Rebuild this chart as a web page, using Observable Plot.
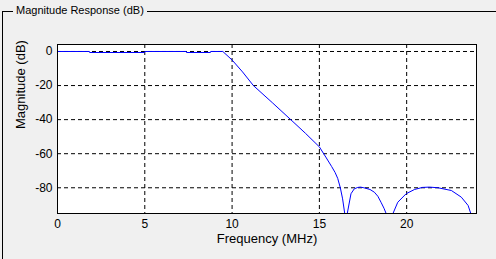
<!DOCTYPE html>
<html><head><meta charset="utf-8">
<script src="https://cdn.jsdelivr.net/npm/d3@7"></script>
<script src="https://cdn.jsdelivr.net/npm/@observablehq/plot@0.6"></script>
<style>
html,body{margin:0;padding:0;background:#f0f0f0;width:496px;height:259px;overflow:hidden;}
#wrap{position:relative;width:496px;height:259px;}
#box{position:absolute;left:2px;top:11px;width:600px;height:400px;border-left:1px solid #000;border-top:1px solid #000;}
#title{position:absolute;left:13px;top:3px;padding:0 3px;background:#f0f0f0;font:11px "Liberation Sans",Arial,sans-serif;color:#000;line-height:14px;}
#chart{position:absolute;left:0;top:0;}
</style></head><body>
<div id="wrap"><div id="box"></div><div id="title">Magnitude Response (dB)</div><div id="chart"></div></div>
<script>
const freqMHz = [0, 1.83, 1.84, 4.99, 5.0, 7.38, 7.39, 8.76, 8.77, 9.47, 10.0, 10.6, 11.22, 12.3, 13.36, 14.2, 15.0, 15.4, 15.7, 15.9, 16.05, 16.2, 16.33, 16.45, 16.55, 16.6, 16.81, 17.0, 17.2, 17.35, 17.55, 17.9, 18.15, 18.35, 18.53, 18.7, 18.82, 19.0, 19.22, 19.49, 19.97, 20.45, 20.9, 21.3, 21.8, 22.56, 23.13, 23.52, 23.67, 24.0];
const magDB = [0, 0, -0.6, -0.6, 0, 0, -0.6, -0.6, 0, 0, -5, -12, -20, -30, -40, -48, -56, -62.5, -67.5, -71, -74.5, -80, -86.5, -95, -130, -95, -83.5, -80.6, -79.8, -79.6, -80, -81, -82.6, -85, -88.5, -92, -95, -130, -95, -88.5, -83.5, -81, -79.8, -79.6, -80, -81.6, -85.5, -90.4, -95, -120];
const xTicks = [0, 5, 10, 15, 20];
const yTicks = [0, -20, -40, -60, -80];
const xLabel = "Frequency (MHz)";
const yLabel = "Magnitude (dB)";
const data = freqMHz.map((f, i) => ({f, m: magDB[i]}));
const chart = Plot.plot({
  width: 496, height: 259, marginLeft: 57, marginRight: 20, marginTop: 44, marginBottom: 46,
  style: {background: "transparent", fontFamily: "Liberation Sans, Arial, sans-serif", fontSize: "12px", color: "#000", overflow: "visible"},
  x: {domain: [0, 24]},
  y: {domain: [-95.1, 4.1]},
  marks: [
    Plot.frame({fill: "white"}),
    Plot.ruleX(xTicks.filter(d => d > 0), {stroke: "#000", strokeDasharray: "4,3", strokeWidth: 1}),
    Plot.ruleY(yTicks, {stroke: "#000", strokeDasharray: "4,3", strokeWidth: 1}),
    Plot.axisX({ticks: xTicks, tickSize: 0, tickPadding: 6, label: null, tickFormat: d => `${d}`}),
    Plot.axisY({ticks: yTicks, tickSize: 0, tickPadding: 5, label: null, tickFormat: d => `${d}`}),
    Plot.line(data, {x: "f", y: "m", stroke: "#0000ff", strokeWidth: 1, clip: true}),
    Plot.frame({stroke: "#000"}),
    Plot.text([xLabel], {frameAnchor: "bottom", dy: 29, fontSize: 13}),
    Plot.text([yLabel], {frameAnchor: "left", dx: -37, rotate: -90, fontSize: 13})
  ]
});
document.getElementById("chart").appendChild(chart);
</script>
</body></html>
